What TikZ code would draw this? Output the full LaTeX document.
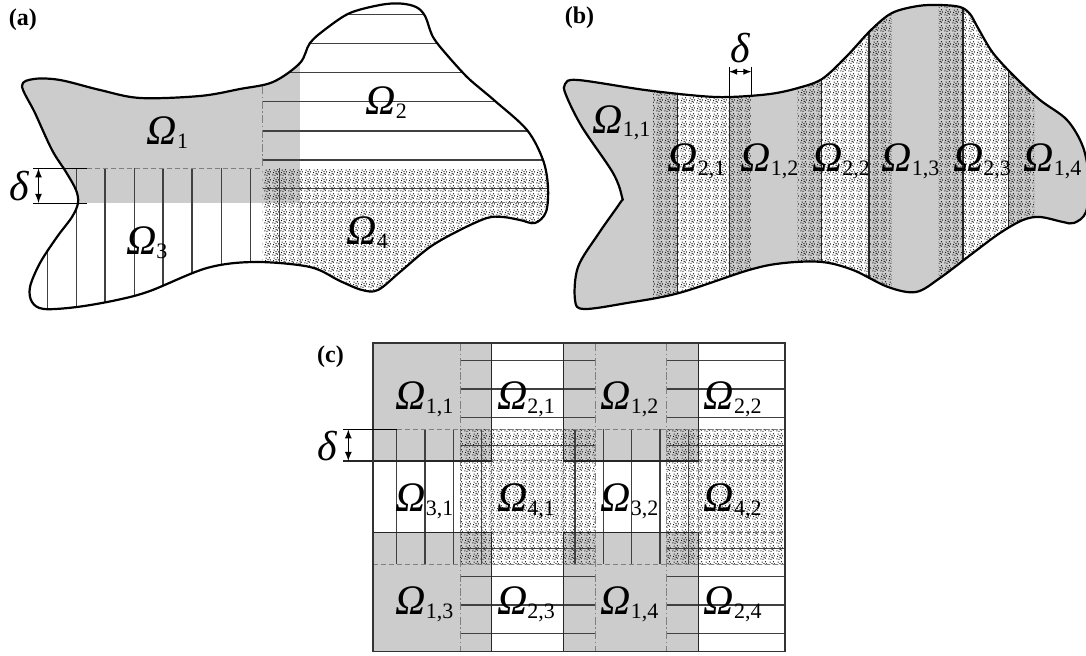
\documentclass[tikz,border=0pt]{standalone}
\usepackage{fontspec}
\setmainfont{Liberation Serif}
\usetikzlibrary{patterns}

\pgfdeclarepatternformonly{stipple}{\pgfqpoint{0pt}{0pt}}{\pgfqpoint{4pt}{4pt}}{\pgfqpoint{4pt}{4pt}}{%
  \pgfpathcircle{\pgfqpoint{0.5pt}{0.6pt}}{0.36pt}
  \pgfpathcircle{\pgfqpoint{1.7pt}{0.4pt}}{0.36pt}
  \pgfpathcircle{\pgfqpoint{3.0pt}{1.0pt}}{0.36pt}
  \pgfpathcircle{\pgfqpoint{3.6pt}{2.3pt}}{0.36pt}
  \pgfpathcircle{\pgfqpoint{0.9pt}{1.9pt}}{0.36pt}
  \pgfpathcircle{\pgfqpoint{2.2pt}{2.5pt}}{0.36pt}
  \pgfpathcircle{\pgfqpoint{1.2pt}{3.3pt}}{0.36pt}
  \pgfpathcircle{\pgfqpoint{3.1pt}{3.5pt}}{0.36pt}
  \pgfpathcircle{\pgfqpoint{2.3pt}{1.5pt}}{0.36pt}
  \pgfusepath{fill}}

\definecolor{regiongray}{gray}{0.8}
\newcommand{\Om}[1]{{\itshape Ω}\raisebox{-1.7pt}{\fontsize{11}{12}\selectfont #1}}
\newcommand{\Del}{{\itshape δ}}

\def\blobA{plot[smooth cycle,tension=0.55] coordinates{(22,86) (34,79) (60,80) (100,90) (140,98) (200,96) (240,89) (273,82) (300,63) (310,43) (327,28) (350,13) (380,5) (400,3.5) (416,7) (425,16) (433,37) (447,55) (467,77) (482,90) (495,101) (527,130) (543,160) (548,187) (546,212) (535,223) (520,220) (503,217) (487,218) (460,230) (430,247) (400,272) (378,290) (362,290) (340,281) (310,267) (255,262) (207,268) (150,291) (117,300) (77,307) (44,309) (32,302) (30,287) (40,263) (57,237) (72,217) (78,203) (76,190) (66,172) (52,150) (35,113)}}
\def\blobB{plot[smooth cycle,tension=0.55] coordinates{(565,84) (578,80) (645,90) (700,96) (730,97) (770,94) (798,88) (822,79) (846,57) (871,30) (892,13) (918,6) (940,5) (960,7) (970,14) (978,28) (993,53) (1015,77) (1040,100) (1067,120) (1083,147) (1089,180) (1086,212) (1074,223) (1063,222) (1040,217) (1023,220) (1000,233) (973,253) (940,278) (916,292) (888,287) (853,270) (822,262) (784,263) (749,270) (679,293) (627,303) (584,309) (575,300) (578,267) (599,233) (620,203) (622,197) (613,173) (582,127) (566,95)}}

\begin{document}
\begin{tikzpicture}[x=0.5pt,y=-0.5pt,>=latex,
    blobline/.style={line width=1.1pt},
    rim/.style={black!85,line width=0.55pt},
    hatch/.style={black!75,line width=0.7pt},
    bound/.style={black!50,line width=0.5pt,dash pattern=on 2.5pt off 1.5pt},
    bounddot/.style={black!50,line width=0.5pt,dash pattern=on 4pt off 1.2pt on 0.8pt off 1.2pt},
    lab/.style={anchor=base west,inner sep=0pt,font=\fontsize{21}{25}\selectfont},
    dlab/.style={inner sep=0pt,font=\fontsize{21}{25}\selectfont},
    panel/.style={anchor=north west,inner sep=0pt,font=\fontsize{12}{14}\selectfont\bfseries}]
\useasboundingbox (0,0) rectangle (1086,656);

% (a)
\begin{scope}
    \clip \blobA;
    \fill[regiongray] (0,0) rectangle (300,203);
    \fill[pattern=stipple] (262.7,168.3) rectangle (560,320);
    \foreach \y in {14.3,43.3,72.7,101.7,131,160,188.3}
        \draw[hatch] (262.7,\y) -- (560,\y);
    \foreach \x in {47.2,76.4,105,134.3,162.9,192.1,221.4,250.7,279.6}
        \draw[hatch] (\x,168.3) -- (\x,320);
    \draw[bound] (86.7,168.3) -- (262.7,168.3);
    \draw[bound] (300,203) -- (560,203);
    \draw[bound] (300,203) -- (300,320);
    \draw[bounddot] (262.7,0) -- (262.7,168.3);
\end{scope}
\draw[blobline] \blobA;

\draw (33.3,168.3) -- (86.7,168.3);
\draw (33.3,203) -- (86.7,203);
\coordinate (dAt) at (38.5,168.3);
\coordinate (dAb) at (38.5,203);
\draw[<->,line width=0.6pt] (dAt) -- (dAb);
\node (dA) at (19,186)[dlab]{\Del};

\node (pa) at (8.6,8.3)[panel]{(a)};
\node (a1) at (146.3,145)[lab]{\Om{1}};
\node (a2) at (365,115)[lab]{\Om{2}};
\node (a3) at (125.7,255)[lab]{\Om{3}};
\node (a4) at (346,245)[lab]{\Om{4}};

% (b)
\begin{scope}
    \clip \blobB;
    \fill[regiongray] (540,0) rectangle (1100,330);
    \fill[white] (677.5,0) rectangle (729.1,330);
    \fill[white] (821.3,0) rectangle (869,330);
    \fill[white] (963,0) rectangle (1008.3,330);
    \fill[pattern=stipple] (653.2,0) rectangle (751.4,330);
    \fill[pattern=stipple] (797.7,0) rectangle (891.7,330);
    \fill[pattern=stipple] (938.7,0) rectangle (1034.4,330);
    \foreach \x in {677.5,729.1,821.3,869,963,1008.3}
        \draw[rim] (\x,0) -- (\x,330);
\end{scope}
\draw[blobline] \blobB;

\draw (729.1,66.7) -- (729.1,97);
\draw (751.4,66.7) -- (751.4,96);
\coordinate (dBl) at (729.1,71.7);
\coordinate (dBr) at (751.4,71.7);
\draw[<->,line width=0.4pt] (dBl) -- (dBr);
\node (dB) at (740,48)[dlab]{\Del};

\node (pb) at (564.4,6.7)[panel]{(b)};
\node (b11) at (592.2,133.3)[lab]{\Om{1,1}};
\node (b21) at (667.1,171.7)[lab]{\Om{2,1}};
\node (b12) at (740.2,171.7)[lab]{\Om{1,2}};
\node (b22) at (811.6,171.7)[lab]{\Om{2,2}};
\node (b13) at (881.2,171.7)[lab]{\Om{1,3}};
\node (b23) at (952.6,171.7)[lab]{\Om{2,3}};
\node (b14) at (1023,171.7)[lab]{\Om{1,4}};

% (c)
\fill[regiongray] (372.7,343.3) rectangle (491.7,461);
\fill[regiongray] (563.3,343.3) rectangle (698.3,461);
\fill[regiongray] (372.7,532.7) rectangle (491.7,651.7);
\fill[regiongray] (563.3,532.7) rectangle (698.3,651.7);
\fill[pattern=stipple] (460,429.3) rectangle (595,564.3);
\fill[pattern=stipple] (666.7,429.3) rectangle (785,564.3);
\foreach \y in {360.7,389,417.3,445.7,548.3,576.7,605,633.3}{
    \draw[hatch] (460,\y) -- (595,\y);
    \draw[hatch] (666.7,\y) -- (785,\y);
}
\foreach \x in {396.7,425,453.3,481.7,575,603.3,631.7,660,688.3}
    \draw[hatch] (\x,429.3) -- (\x,564.3);
\draw[bound] (396.7,429.3) -- (785,429.3);
\draw[bound] (372.7,564.3) -- (785,564.3);
\draw[bound] (491.7,461) -- (563.3,461) (698.3,461) -- (785,461);
\draw[bound] (491.7,532.7) -- (563.3,532.7) (698.3,532.7) -- (785,532.7);
\draw[bound] (491.7,461) -- (491.7,532.7) (563.3,461) -- (563.3,532.7) (698.3,461) -- (698.3,532.7);
\draw[bounddot] (460,343.3) -- (460,651.7) (595,343.3) -- (595,651.7) (666.7,343.3) -- (666.7,651.7);
\draw[rim] (343.3,461) -- (491.7,461) -- (491.7,343.3);
\draw[rim] (563.3,343.3) -- (563.3,461) -- (698.3,461) -- (698.3,343.3);
\draw[rim] (372.7,532.7) -- (491.7,532.7) -- (491.7,651.7);
\draw[rim] (563.3,651.7) -- (563.3,532.7) -- (698.3,532.7) -- (698.3,651.7);
\draw[black!80,line width=0.8pt] (372.7,343.3) rectangle (785,651.7);

\draw (343.3,429.3) -- (396.7,429.3);
\coordinate (dCt) at (348.3,429.3);
\coordinate (dCb) at (348.3,461);
\draw[<->,line width=0.6pt] (dCt) -- (dCb);
\node (dC) at (327.5,446)[dlab]{\Del};

\node (pc) at (316.7,345)[panel]{(c)};
\node (c11) at (395,410)[lab]{\Om{1,1}};
\node (c21) at (496.7,410)[lab]{\Om{2,1}};
\node (c12) at (600,410)[lab]{\Om{1,2}};
\node (c22) at (703.3,410)[lab]{\Om{2,2}};
\node (c31) at (395,511.7)[lab]{\Om{3,1}};
\node (c41) at (496.7,511.7)[lab]{\Om{4,1}};
\node (c32) at (600,511.7)[lab]{\Om{3,2}};
\node (c42) at (703.3,511.7)[lab]{\Om{4,2}};
\node (c13) at (395,615)[lab]{\Om{1,3}};
\node (c23) at (496.7,615)[lab]{\Om{2,3}};
\node (c14) at (600,615)[lab]{\Om{1,4}};
\node (c24) at (703.3,615)[lab]{\Om{2,4}};

\end{tikzpicture}
\end{document}
